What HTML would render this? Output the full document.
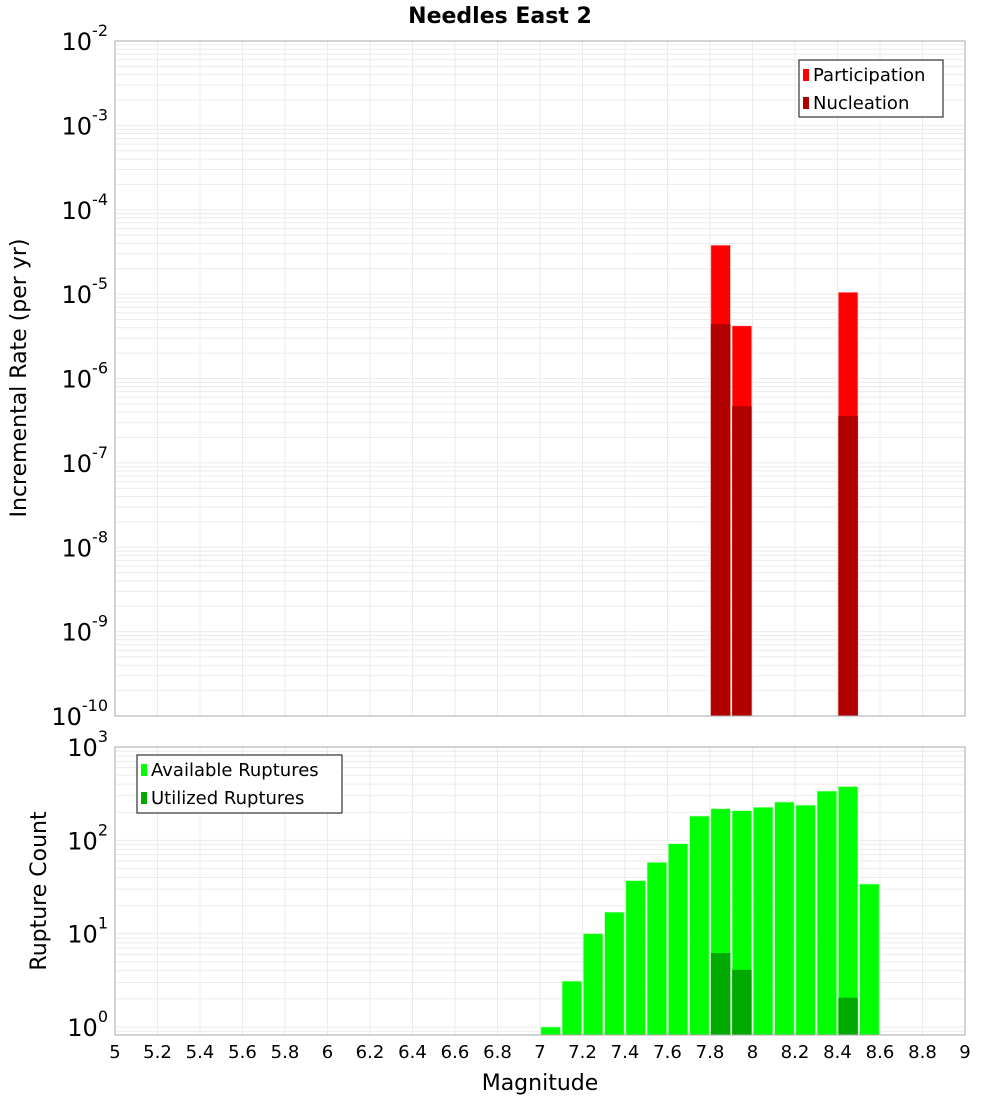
<!DOCTYPE html>
<html><head><meta charset="utf-8"><style>
body{margin:0;background:#fff;font-family:"DejaVu Sans","Liberation Sans",sans-serif;}
</style></head><body>
<svg id="chart" width="1000" height="1100" xmlns="http://www.w3.org/2000/svg" font-family="DejaVu Sans, Liberation Sans, sans-serif"></svg>
<script>
const xTicks=[5,5.2,5.4,5.6,5.8,6,6.2,6.4,6.6,6.8,7,7.2,7.4,7.6,7.8,8,8.2,8.4,8.6,8.8,9];
const xTickLabels=["5","5.2","5.4","5.6","5.8","6","6.2","6.4","6.6","6.8","7","7.2","7.4","7.6","7.8","8","8.2","8.4","8.6","8.8","9"];
const rateMags=[7.85,7.95,8.45];
const participation=[3.8e-5,4.2e-6,1.05e-5];
const nucleation=[4.4e-6,4.7e-7,3.6e-7];
const countMags=[7.05,7.15,7.25,7.35,7.45,7.55,7.65,7.75,7.85,7.95,8.05,8.15,8.25,8.35,8.45,8.55];
const available=[1,3.1,10,17,37,58,92,182,218,208,226,257,238,337,377,34];
const utilMags=[7.85,7.95,8.45];
const utilized=[6.2,4.1,2.06];
const topExps=[-2,-3,-4,-5,-6,-7,-8,-9,-10];
const botExps=[3,2,1,0];

const NS="http://www.w3.org/2000/svg";
const svg=document.getElementById('chart');
function mk(tag,attrs,parent){const e=document.createElementNS(NS,tag);for(const k in attrs)e.setAttribute(k,attrs[k]);(parent||svg).appendChild(e);return e;}
const L=115,R=965;
const x=m=>L+(m-5)/4*(R-L);
const T1=41,B1=716;
const y1=v=>T1+(-2-Math.log10(v))*(B1-T1)/8;
const T2=747,B2=1035,Y0=1027,DEC=93.33;
const y2=v=>Y0-Math.log10(v)*DEC;
const bw=19.5;

function grid(top,bot,ymap,eMin,eMax){
  const g=mk('g',{});
  for(let e=eMin;e<=eMax;e++)for(let k=1;k<=9;k++){const yy=ymap(k*Math.pow(10,e));if(yy<top-0.1||yy>bot+0.1)continue;mk('line',{x1:L,x2:R,y1:yy,y2:yy,stroke:'#ebebeb','stroke-width':1},g);}
  xTicks.forEach(t=>mk('line',{x1:x(t),x2:x(t),y1:top,y2:bot,stroke:'#ebebeb','stroke-width':1},g));
}
grid(T1,B1,y1,-10,-3);
grid(T2,B2,y2,-1,2);

// top bars
rateMags.forEach((m,i)=>{
  const r=mk('rect',{x:x(m)-bw/2,y:y1(participation[i]),width:bw,height:B1-y1(participation[i]),fill:'#ff0000',stroke:'#ffb0b0','stroke-width':0.6});
  
});
rateMags.forEach((m,i)=>{
  const r=mk('rect',{x:x(m)-bw/2,y:y1(nucleation[i]),width:bw,height:B1-y1(nucleation[i]),fill:'#b00000'});
  
});
countMags.forEach((m,i)=>{
  const r=mk('rect',{x:x(m)-bw/2,y:y2(available[i]),width:bw,height:B2-y2(available[i]),fill:'#00ff00',stroke:'#b0ffb0','stroke-width':0.6});
  
});
utilMags.forEach((m,i)=>{
  const r=mk('rect',{x:x(m)-bw/2,y:y2(utilized[i]),width:bw,height:B2-y2(utilized[i]),fill:'#00aa00'});
  
});

// frames
let f=mk('rect',{x:L,y:T1,width:R-L,height:B1-T1,fill:'none',stroke:'#aaa','stroke-width':1});

f=mk('rect',{x:L,y:T2,width:R-L,height:B2-T2,fill:'none',stroke:'#aaa','stroke-width':1});


function ylabel(yy,e){
  const t=mk('text',{x:108,y:yy+9,'text-anchor':'end','font-size':24,fill:'#000'});
  
  const a=document.createElementNS(NS,'tspan');a.textContent='10';t.appendChild(a);
  const b=document.createElementNS(NS,'tspan');b.setAttribute('dy','-14');b.setAttribute('font-size','16');b.textContent=String(e);t.appendChild(b);
}
topExps.forEach(e=>ylabel(y1(Math.pow(10,e)),e));
botExps.forEach(e=>ylabel(y2(Math.pow(10,e)),e));

xTicks.forEach((t,i)=>{
  const tx=mk('text',{x:x(t),y:1058,'text-anchor':'middle','font-size':18,fill:'#000'});
  tx.textContent=xTickLabels[i];
  
});

function txt(s,attrs,name){const t=mk('text',attrs);t.textContent=s;return t;}
txt('Needles East 2',{x:500,y:23,'text-anchor':'middle','font-size':22,'font-weight':'bold'},'chart-title');
txt('Magnitude',{x:540,y:1090,'text-anchor':'middle','font-size':22},'x-axis-title');
txt('Incremental Rate (per yr)',{x:0,y:0,'text-anchor':'middle','font-size':22,transform:'translate(26,378) rotate(-90)'},'top-y-axis-title');
txt('Rupture Count',{x:0,y:0,'text-anchor':'middle','font-size':22,transform:'translate(46,891) rotate(-90)'},'bottom-y-axis-title');

function legend(bx,by,w,h,items,name){
  const g=mk('g',{});
  mk('rect',{x:bx,y:by,width:w,height:h,fill:'#fff',stroke:'#333','stroke-width':1.2},g);
  items.forEach((it,i)=>{
    const cy=by+14+i*28;
    mk('rect',{x:bx+4,y:cy-5,width:6,height:12,fill:it[1]},g);
    const t=mk('text',{x:bx+14,y:cy+7,'font-size':18,fill:'#000'},g);t.textContent=it[0];
  });
}
legend(799,60,144,57,[['Participation','#ff0000'],['Nucleation','#b00000']],'rate-legend');
legend(137,755,205,58,[['Available Ruptures','#00ff00'],['Utilized Ruptures','#00aa00']],'count-legend');
</script>
</body></html>
